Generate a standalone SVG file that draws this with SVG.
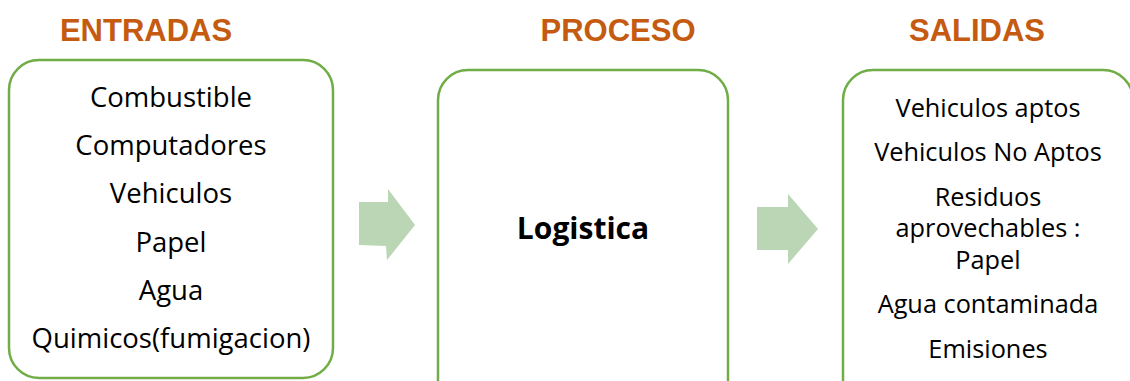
<svg xmlns="http://www.w3.org/2000/svg" width="1130" height="381" viewBox="0 0 1130 381">
<style>
.h{font-family:"Liberation Sans",Arial,sans-serif;font-weight:bold;font-size:31px;fill:#C55A11;text-anchor:middle}
.box{fill:#fff;stroke:#70AD47;stroke-width:2.5}
.t{font-family:"Open Sans","Noto Sans",sans-serif;font-size:27.5px;fill:#000;text-anchor:middle}
.s{font-family:"Open Sans","Noto Sans",sans-serif;font-size:25.3px;fill:#000;text-anchor:middle}
.b{font-family:"Open Sans","Noto Sans",sans-serif;font-size:30px;font-weight:bold;fill:#000;text-anchor:middle}
.arr{fill:#BBD6B4}
</style>
<rect width="1130" height="381" fill="#fff"/>
<g id="headings">
<text class="h" x="146" y="41">ENTRADAS</text>
<text class="h" x="618" y="41">PROCESO</text>
<text class="h" x="977" y="41">SALIDAS</text>
</g>
<g id="entradas">
<rect class="box" x="9" y="60" width="324" height="318" rx="30" ry="30"/>
<text class="t" x="171" y="107">Combustible</text>
<text class="t" x="171" y="155">Computadores</text>
<text class="t" x="171" y="203">Vehiculos</text>
<text class="t" x="171" y="252">Papel</text>
<text class="t" x="171" y="300">Agua</text>
<text class="t" x="171" y="348">Quimicos(fumigacion)</text>
</g>
<g id="proceso">
<rect class="box" x="438" y="70" width="290" height="340" rx="30" ry="30"/>
<text class="b" x="583" y="239">Logistica</text>
</g>
<g id="salidas">
<rect class="box" x="843" y="70" width="290" height="340" rx="30" ry="30"/>
<text class="s" x="988" y="117">Vehiculos aptos</text>
<text class="s" x="988" y="161">Vehiculos No Aptos</text>
<text class="s" x="988" y="206">Residuos</text>
<text class="s" x="988" y="237">aprovechables :</text>
<text class="s" x="988" y="269">Papel</text>
<text class="s" x="988" y="313">Agua contaminada</text>
<text class="s" x="988" y="358">Emisiones</text>
</g>
<g id="connectors">
<polygon class="arr" points="359,202 388,202 388,189 415,225 387,260 386,246 359,245"/>
<polygon class="arr" points="757,207 788,207 788,194 818,229 788,264 788,250 757,250"/>
</g>
</svg>
